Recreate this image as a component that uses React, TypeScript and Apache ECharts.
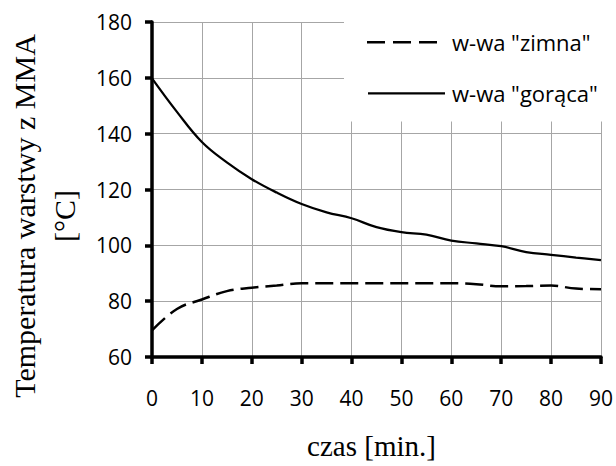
import React, { useEffect, useRef } from "react";
import * as echarts from "echarts";

const minutes = [0, 5, 10, 15, 20, 25, 30, 35, 40, 45, 50, 55, 60, 65, 70, 75, 80, 85, 90];
const hotTemp = [159.8, 147.8, 137.0, 129.7, 123.7, 118.9, 114.8, 111.8, 109.7, 106.5, 104.7, 103.8, 101.7, 100.7, 99.7, 97.6, 96.6, 95.6, 94.7];
const coldTemp = [69.5, 77.2, 80.6, 83.6, 84.8, 85.6, 86.4, 86.4, 86.4, 86.4, 86.4, 86.4, 86.4, 86.1, 85.3, 85.4, 85.6, 84.5, 84.3];
const seriesNames = ['w-wa "zimna"', 'w-wa "gorąca"'];
const xTitle = "czas [min.]";
const yTitle = "Temperatura warstwy z MMA\n[°C]";

export default function App() {
  const ref = useRef<HTMLDivElement>(null);
  useEffect(() => {
    if (!ref.current) return;
    const chart = echarts.init(ref.current, undefined, { renderer: "svg" });
    const sans = "'Open Sans', 'Noto Sans', sans-serif";
    const serif = "'Liberation Serif', 'DejaVu Serif', serif";
    chart.setOption({
      animation: false,
      backgroundColor: "#ffffff",
      grid: { left: 152, right: 14, top: 22, bottom: 109, containLabel: false },
      xAxis: {
        type: "value",
        min: 0,
        max: 90,
        interval: 10,
        axisLine: { show: true, onZero: false, lineStyle: { color: "#000", width: 3.5 } },
        axisTick: { show: true, length: 7, lineStyle: { color: "#000", width: 3.5 } },
        axisLabel: { color: "#000", fontFamily: sans, fontSize: 21, margin: 30 },
        splitLine: { show: true, lineStyle: { color: "#a6a6a6", width: 1 } },
      },
      yAxis: {
        type: "value",
        min: 60,
        max: 180,
        interval: 20,
        axisLine: { show: true, onZero: false, lineStyle: { color: "#000", width: 3.5 } },
        axisTick: { show: true, length: 7, lineStyle: { color: "#000", width: 3.5 } },
        axisLabel: { color: "#000", fontFamily: sans, fontSize: 21, margin: 20 },
        splitLine: { show: true, lineStyle: { color: "#a6a6a6", width: 1 } },
      },
      graphic: [
        {
          type: "rect",
          z: 10,
          shape: { x: 344, y: 8, width: 272, height: 113.5 },
          style: { fill: "#ffffff" },
          silent: true,
        },
        {
          type: "line",
          z: 20,
          shape: { x1: 367, y1: 42.3, x2: 437, y2: 42.3 },
          style: { stroke: "#000", lineWidth: 2.5, lineDash: [18, 8] },
        },
        {
          type: "text",
          z: 20,
          x: 452,
          y: 42,
          style: {
            text: seriesNames[0],
            fontFamily: sans,
            fontSize: 22,
            fill: "#000",
            align: "left",
            verticalAlign: "middle",
          },
        },
        {
          type: "line",
          z: 20,
          shape: { x1: 368, y1: 93.3, x2: 445, y2: 93.3 },
          style: { stroke: "#000", lineWidth: 2.25 },
        },
        {
          type: "text",
          z: 20,
          x: 452,
          y: 93,
          style: {
            text: seriesNames[1],
            fontFamily: sans,
            fontSize: 22,
            fill: "#000",
            align: "left",
            verticalAlign: "middle",
          },
        },
        {
          type: "text",
          z: 30,
          x: 44,
          y: 216,
          rotation: Math.PI / 2,
          style: {
            text: yTitle,
            fontFamily: serif,
            fontSize: 30,
            lineHeight: 40,
            fill: "#000",
            align: "center",
            verticalAlign: "middle",
          },
        },
        {
          type: "text",
          z: 30,
          x: 371.5,
          y: 446,
          style: {
            text: xTitle,
            fontFamily: serif,
            fontSize: 29,
            fill: "#000",
            align: "center",
            verticalAlign: "middle",
          },
        },
      ],
      series: [
        {
          name: seriesNames[0],
          type: "line",
          data: minutes.map((m, i) => [m, coldTemp[i]]),
          smooth: 0.4,
          symbol: "none",
          z: 5,
          lineStyle: { color: "#000", width: 2.5, type: [18, 7] },
          itemStyle: { color: "#000" },
        },
        {
          name: seriesNames[1],
          type: "line",
          data: minutes.map((m, i) => [m, hotTemp[i]]),
          smooth: 0.4,
          symbol: "none",
          z: 5,
          lineStyle: { color: "#000", width: 2.25, type: "solid" },
          itemStyle: { color: "#000" },
        },
      ],
    });
    return () => chart.dispose();
  }, []);
  return (
    <div
      ref={ref}
      style={{ position: "fixed", left: 0, top: 0, width: 616, height: 466, background: "#fff" }}
    />
  );
}
